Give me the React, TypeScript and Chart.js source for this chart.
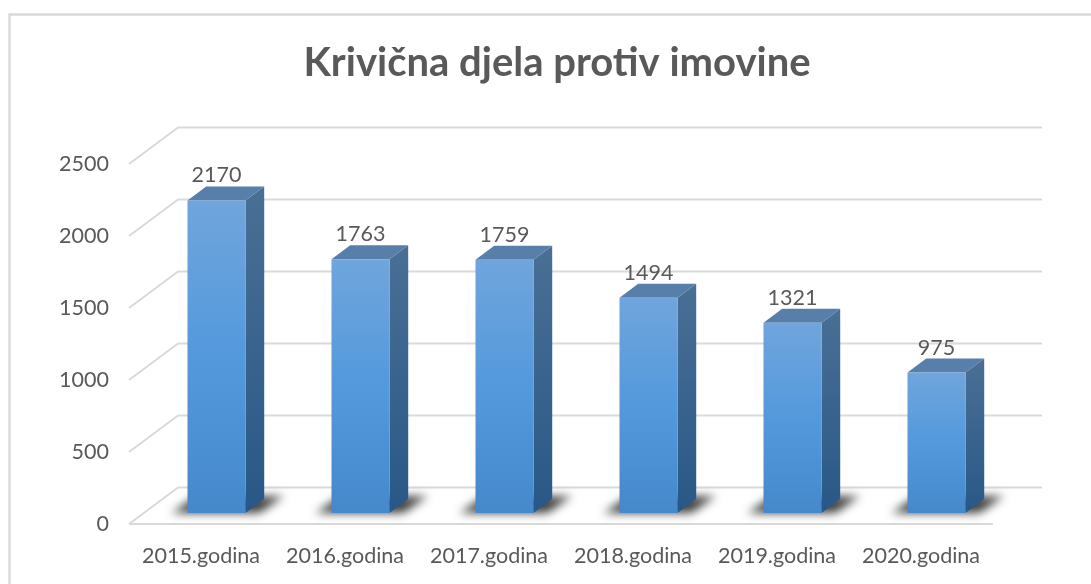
import React, { useEffect, useRef } from "react";
import { Chart, registerables } from "chart.js";

Chart.register(...registerables);

const TITLE = "Krivična djela protiv imovine";
const categories = ["2015.godina", "2016.godina", "2017.godina", "2018.godina", "2019.godina", "2020.godina"];
const values = [2170, 1763, 1759, 1494, 1321, 975];
const yTicks = [0, 500, 1000, 1500, 2000, 2500];

const FONT = "Lato, 'Open Sans', sans-serif";
const TEXT = "#595959";
const GRID = "#d9d9d9";
// depth of the fake 3D floor, of the bar plane within it, and of a bar
const WALL = { dx: 49, dy: -36.5 };
const BAR_PLANE = { dx: 15.5, dy: -11 };
const BAR_DEPTH = { dx: 18.7, dy: -14 };

const threeD = {
  id: "threeD",
  beforeDraw(chart: any) {
    const { ctx, width, height, chartArea, scales } = chart;
    ctx.save();
    ctx.fillStyle = "#ffffff";
    ctx.fillRect(0, 0, width, height);
    // outer frame, cut by the picture's right and bottom edges
    ctx.strokeStyle = GRID;
    ctx.lineWidth = 2.4;
    ctx.beginPath();
    ctx.moveTo(9.5, height);
    ctx.lineTo(9.5, 14.5);
    ctx.lineTo(width, 14.5);
    ctx.stroke();
    // walls and floor
    ctx.lineWidth = 2;
    ctx.lineJoin = "round";
    for (const t of yTicks) {
      const y = scales.y.getPixelForValue(t);
      ctx.beginPath();
      ctx.moveTo(chartArea.left, y);
      ctx.lineTo(chartArea.left + WALL.dx, y + WALL.dy);
      ctx.lineTo(chartArea.right + WALL.dx, y + WALL.dy);
      ctx.stroke();
    }
    ctx.beginPath();
    ctx.moveTo(chartArea.left, chartArea.bottom);
    ctx.lineTo(chartArea.right, chartArea.bottom);
    ctx.stroke();
    ctx.restore();
  },
  beforeDatasetsDraw(chart: any) {
    const { ctx } = chart;
    const bars = chart.getDatasetMeta(0).data;
    ctx.save();
    ctx.translate(BAR_PLANE.dx, BAR_PLANE.dy);
    // floor shadows
    for (const b of bars) {
      const l = b.x - b.width / 2;
      const r = b.x + b.width / 2;
      ctx.save();
      ctx.filter = "blur(5px)";
      ctx.fillStyle = "#404040";
      ctx.beginPath();
      ctx.moveTo(l - 16, b.base);
      ctx.lineTo(l + 8, b.base - 16);
      ctx.lineTo(r + 38, b.base - 17);
      ctx.lineTo(r + 14, b.base);
      ctx.closePath();
      ctx.fill();
      ctx.restore();
    }
    // side and top faces
    for (const b of bars) {
      const r = b.x + b.width / 2;
      const l = b.x - b.width / 2;
      const g = ctx.createLinearGradient(0, b.y + BAR_DEPTH.dy, 0, b.base);
      g.addColorStop(0, "#4a6f95");
      g.addColorStop(1, "#285888");
      ctx.fillStyle = g;
      ctx.beginPath();
      ctx.moveTo(r, b.y);
      ctx.lineTo(r + BAR_DEPTH.dx, b.y + BAR_DEPTH.dy);
      ctx.lineTo(r + BAR_DEPTH.dx, b.base + BAR_DEPTH.dy);
      ctx.lineTo(r, b.base);
      ctx.closePath();
      ctx.fill();
      ctx.fillStyle = "#587fa9";
      ctx.beginPath();
      ctx.moveTo(l, b.y);
      ctx.lineTo(l + BAR_DEPTH.dx, b.y + BAR_DEPTH.dy);
      ctx.lineTo(r + BAR_DEPTH.dx, b.y + BAR_DEPTH.dy);
      ctx.lineTo(r, b.y);
      ctx.closePath();
      ctx.fill();
    }
    ctx.restore();
    // the library's own bars are drawn next, inside this shifted plane
    ctx.save();
    ctx.translate(BAR_PLANE.dx, BAR_PLANE.dy);
  },
  afterDatasetsDraw(chart: any) {
    const { ctx } = chart;
    ctx.restore();
    const bars = chart.getDatasetMeta(0).data;
    ctx.save();
    ctx.fillStyle = TEXT;
    ctx.font = `21.5px ${FONT}`;
    ctx.textAlign = "center";
    ctx.textBaseline = "middle";
    bars.forEach((b: any, i: number) => {
      ctx.fillText(String(values[i]), b.x + BAR_PLANE.dx, b.y + BAR_PLANE.dy - 25);
    });
    ctx.restore();
  },
  afterLayout(chart: any) {
    // the title sits a little left of the plot's centre
    if (chart.titleBlock) {
      chart.titleBlock.left -= 4;
      chart.titleBlock.right -= 4;
    }
  },
};

export default function App() {
  const ref = useRef<HTMLCanvasElement | null>(null);
  useEffect(() => {
    const canvas = ref.current;
    if (!canvas) return;
    const chart = new Chart(canvas, {
      type: "bar",
      data: {
        labels: categories,
        datasets: [
          {
            label: TITLE,
            data: values,
            barPercentage: 0.403,
            categoryPercentage: 1,
            backgroundColor: (c: any) => {
              const y = c.chart.scales?.y;
              const v = values[c.dataIndex];
              const top = y && v !== undefined ? y.getPixelForValue(v) : NaN;
              const bottom = y ? y.getPixelForValue(0) : NaN;
              if (!Number.isFinite(top) || !Number.isFinite(bottom)) return "#5399dc";
              const g = c.chart.ctx.createLinearGradient(0, top, 0, bottom);
              g.addColorStop(0, "#70a5dd");
              g.addColorStop(0.5, "#5399dc");
              g.addColorStop(1, "#4589cb");
              return g;
            },
          },
        ],
      },
      options: {
        responsive: false,
        animation: false,
        layout: { padding: { left: 0, right: 98, top: 0, bottom: 0 } },
        plugins: {
          legend: { display: false },
          tooltip: { enabled: false },
          title: {
            display: true,
            text: TITLE,
            color: TEXT,
            fullSize: false,
            font: { family: FONT, size: 40, weight: "bold", lineHeight: 1.2 },
            padding: { top: 39, bottom: 77 },
          },
        },
        scales: {
          x: {
            grid: { display: false, drawTicks: false },
            border: { display: false },
            ticks: { color: TEXT, font: { family: FONT, size: 21.5 }, padding: 19, maxRotation: 0, autoSkip: false },
            afterFit: (s: any) => {
              s.height = 60;
            },
          },
          y: {
            min: 0,
            max: 2500,
            grid: { display: false, drawTicks: false },
            border: { display: false },
            afterBuildTicks: (s: any) => {
              s.ticks = yTicks.map((value) => ({ value }));
            },
            ticks: { color: TEXT, font: { family: FONT, size: 21.5 }, padding: 20, callback: (v: any) => String(v) },
            afterFit: (s: any) => {
              s.width = 129;
            },
          },
        },
      },
      plugins: [threeD],
    } as any);
    return () => chart.destroy();
  }, []);
  return (
    <div style={{ position: "fixed", left: 0, top: 0, width: 1091, height: 584, background: "#fff" }}>
      <canvas ref={ref} width={1091} height={584} style={{ display: "block", width: 1091, height: 584, filter: "blur(0.4px)" }} />
    </div>
  );
}
